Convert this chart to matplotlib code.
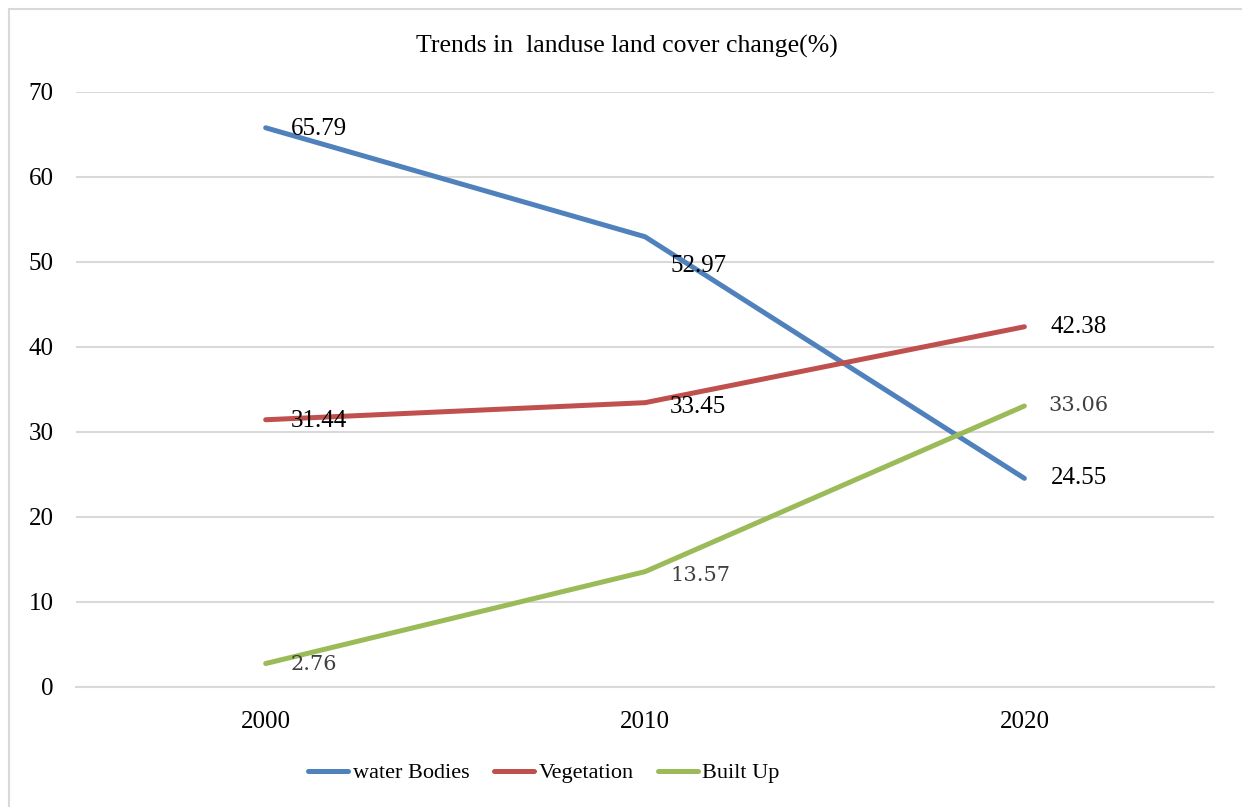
import matplotlib
matplotlib.use("Agg")
import matplotlib.pyplot as plt
from matplotlib.patches import Rectangle

# ── Data ─────────────────────────────────────────────────────────────────────
years = ["2000", "2010", "2020"]
water_bodies = [65.79, 52.97, 24.55]
vegetation = [31.44, 33.45, 42.38]
built_up = [2.76, 13.57, 33.06]

series_names = ["water Bodies", "Vegetation", "Built Up"]
colors = ["#4F81BD", "#C0504D", "#9BBB59"]

plt.rcParams.update({
    "font.family": ["Liberation Serif", "DejaVu Serif"],
    "font.size": 18,
})

fig = plt.figure(figsize=(12.42, 8.07), dpi=100)
ax = fig.add_axes([0.0612, 0.1487, 0.9163, 0.7373])

# outer chart border (right/bottom edges fall outside the image)
fig.patches.append(Rectangle((9 / 1242, -10 / 807), 1260 / 1242, 808 / 807,
                             transform=fig.transFigure, fill=False,
                             edgecolor="#d9d9d9", linewidth=1.5))

x = list(range(len(years)))
all_series = [water_bodies, vegetation, built_up]
for vals, name, c in zip(all_series, series_names, colors):
    ax.plot(x, vals, color=c, linewidth=3.6, solid_capstyle="round",
            label=name, zorder=3)

# data labels
dark = dict(fontsize=18, color="black", va="center", ha="left")
grey = dict(fontsize=15, color="#404040", va="center", ha="left",
            family="DejaVu Serif")

def lab(i, v, dy=0, style=dark, dx=18):
    ax.annotate(f"{v:.2f}", (i, v), xytext=(dx, dy),
                textcoords="offset points", zorder=4, **style)

lab(0, water_bodies[0], dy=-1)
lab(1, water_bodies[1], dy=-21)
lab(2, water_bodies[2], dx=19)
lab(0, vegetation[0], dy=-1)
lab(1, vegetation[1], dy=-3)
lab(2, vegetation[2], dx=19)
lab(0, built_up[0], style=grey, dy=-1)
lab(1, built_up[1], dy=-3, style=grey)
lab(2, built_up[2], style=grey, dx=17)

ax.set_xlim(-0.5, 2.5)
ax.set_ylim(0, 70)
ax.set_yticks(range(0, 71, 10))
ax.set_xticks(x)
ax.set_xticklabels(years)
ax.grid(axis="y", color="#d9d9d9", linewidth=1.5)
ax.set_axisbelow(True)
for s in ["top", "right", "left"]:
    ax.spines[s].set_visible(False)
ax.spines["bottom"].set_color("#d9d9d9")
ax.spines["bottom"].set_linewidth(1.5)
ax.tick_params(axis="both", length=0)
ax.tick_params(axis="y", pad=16)
ax.tick_params(axis="x", pad=17)

fig.text(0.505, 0.942, "Trends in  landuse land cover change(%)",
         ha="center", va="center", fontsize=18.5)

fig.legend(loc="center", bbox_to_anchor=(544 / 1242, 1 - 773 / 807),
           ncol=3, frameon=False, fontsize=16, handlelength=1.8,
           handletextpad=0.2, columnspacing=1.1)

fig.savefig("out.png", dpi=100, facecolor="white")
